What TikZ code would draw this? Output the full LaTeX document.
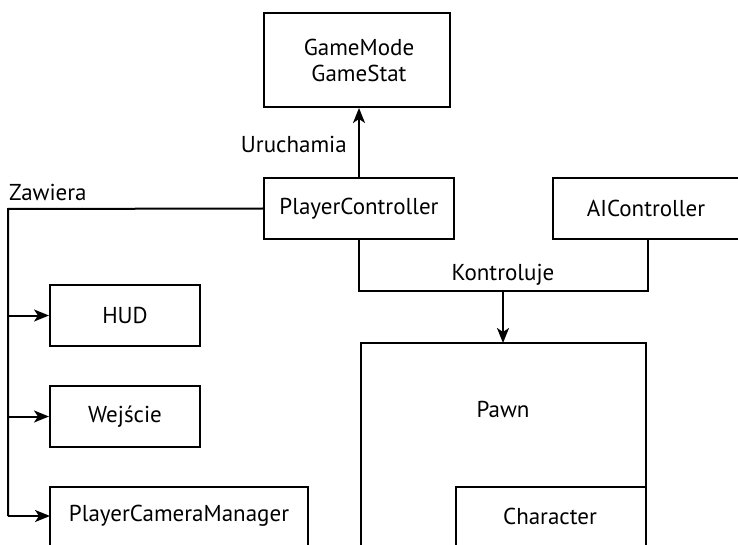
\documentclass[tikz,border=0pt]{standalone}
\usepackage{fontspec}
\setmainfont{PT Sans}
\usetikzlibrary{arrows.meta}
\begin{document}
\begin{tikzpicture}[x=1pt,y=-1pt,
  box/.style={draw,line width=2pt,inner sep=0pt},
  lbl/.style={font=\fontsize{23}{26}\selectfont,inner sep=0pt},
  conn/.style={line width=2pt},
  arr/.style={conn,-{Stealth[length=15pt,width=12pt,inset=4pt]}}]
\useasboundingbox (0,0) rectangle (738,545);
% boxes
\node[box,minimum width=186pt,minimum height=94pt] (gm) at (357,60) {};
\node[lbl,align=center] (gmt) at (359,60) {GameMode\\GameStat};
\node[box,minimum width=190pt,minimum height=61pt] (pc) at (359,208.5) {};
\node[lbl] (pct) at (pc) {PlayerController};
\node[box,minimum width=186pt,minimum height=61pt] (ai) at (646,208.5) {};
\node[lbl] (ait) at (ai) {AIController};
\node[box,minimum width=150pt,minimum height=61pt] (hud) at (125,315.5) {};
\node[lbl] (hudt) at (hud) {HUD};
\node[box,minimum width=150pt,minimum height=61pt] (we) at (125,416.5) {};
\node[lbl] (wet) at (we) {Wejście};
% cut-off boxes
\draw[conn] (50,548) -- (50,487) -- (308,487) -- (308,548);
\node[lbl] (pcmt) at (179,516) {PlayerCameraManager};
\coordinate (pcml) at (50,516);
\draw[conn] (361,548) -- (361,343) -- (646,343) -- (646,548);
\coordinate (pawntop) at (503,343);
\node[lbl] (pawnt) at (503,409) {Pawn};
\draw[conn] (456,548) -- (456,487) -- (646,487);
\node[lbl] (chart) at (550,516) {Character};
% connectors
\draw[arr] (pc.north) -- (gm.south -| pc.north);
\node[lbl,anchor=east] (uru) at (347,144) {Uruchamia};
\coordinate (zc) at (8,209);
\draw[conn] (pc.west) -- (zc) -- (8,516);
\draw[arr] (8,516) -- (pcml);
\draw[arr] (8,315.5) -- (hud.west);
\draw[arr] (8,416.5) -- (we.west);
\node[lbl,anchor=west] (zaw) at (9,192) {Zawiera};
\coordinate (kl) at (359,291);
\coordinate (kr) at (648,291);
\coordinate (km) at (503,291);
\draw[conn] (pc.south -| kl) -- (kl) -- (kr) -- (ai.south -| kr);
\draw[arr] (km) -- (pawntop);
\node[lbl] (kon) at (503,275) {Kontroluje};
\end{tikzpicture}
\end{document}
